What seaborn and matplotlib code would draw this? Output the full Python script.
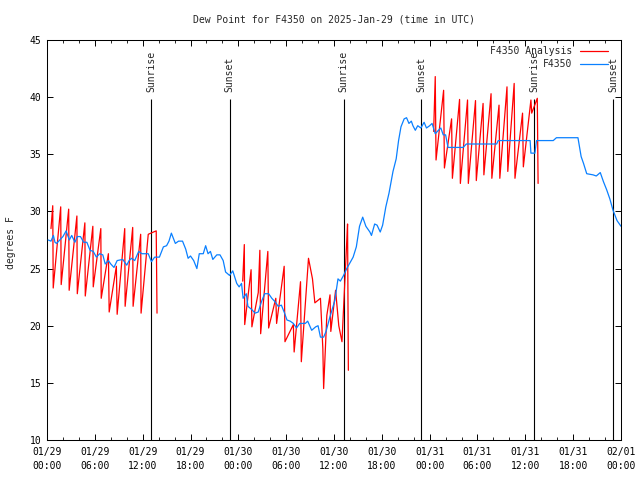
import numpy as np
import pandas as pd
import matplotlib
matplotlib.use("Agg")
import matplotlib.pyplot as plt
import seaborn as sns

# ---------------- data ----------------
title = "Dew Point for F4350 on 2025-Jan-29 (time in UTC)"
y_label = "degrees F"
obs_name = "F4350"
ana_name = "F4350 Analysis"

# hours since 2025-01-29 00:00 UTC
x_tick_hours = [0, 6, 12, 18, 24, 30, 36, 42, 48, 54, 60, 66, 72]
x_tick_labels = ["01/29\n00:00", "01/29\n06:00", "01/29\n12:00", "01/29\n18:00",
                 "01/30\n00:00", "01/30\n06:00", "01/30\n12:00", "01/30\n18:00",
                 "01/31\n00:00", "01/31\n06:00", "01/31\n12:00", "01/31\n18:00",
                 "02/01\n00:00"]
y_ticks = [10, 15, 20, 25, 30, 35, 40, 45]

sun_hours = [13.1, 22.9, 37.2, 46.95, 61.1, 71.0]
sun_labels = ["Sunrise", "Sunset", "Sunrise", "Sunset", "Sunrise", "Sunset"]

# observed dew point (F4350)
obs_hours = [0.15, 0.5, 0.8, 1.0, 1.2, 1.6, 2.0, 2.4, 2.8, 3.1, 3.5, 3.8, 4.2, 4.6,
             5.0, 5.4, 5.8, 6.2, 6.6, 7.0, 7.3, 7.7, 8.0, 8.4, 8.8, 9.5, 10.0, 10.3,
             10.6, 11.0, 11.5, 11.9, 12.7, 13.1, 13.5, 14.1, 14.6, 15.0, 15.3, 15.6,
             16.1, 16.5, 17.0, 17.4, 17.7, 18.0, 18.4, 18.8, 19.1, 19.6, 19.9, 20.2,
             20.5, 20.8, 21.3, 21.7, 22.1, 22.4, 22.9, 23.3, 23.8, 24.1, 24.4, 24.6,
             25.0, 25.2, 25.7, 26.1, 26.5, 26.9, 27.3, 27.8, 28.2, 28.6, 29.0, 29.4,
             29.8, 30.1, 30.5, 30.9, 31.3, 31.7, 32.4, 32.7, 33.2, 33.7, 34.0, 34.3,
             34.7, 35.0, 35.5, 35.8, 36.1, 36.5, 36.8, 37.2, 37.6, 38.0, 38.4, 38.8,
             39.2, 39.6, 40.0, 40.5, 40.7, 41.1, 41.4, 41.8, 42.1, 42.5, 42.9, 43.4,
             43.8, 44.1, 44.4, 44.8, 45.1, 45.4, 45.7, 45.9, 46.2, 46.5, 46.9, 47.3,
             47.6, 48.0, 48.3, 48.7, 49.1, 49.4, 49.7, 50.0, 50.3, 52.2, 52.6, 56.4,
             56.6, 60.6, 60.7, 61.2, 61.4, 63.5, 63.9, 66.6, 67.0, 67.3, 67.7, 68.5,
             68.9, 69.4, 69.8, 70.2, 70.6, 71.0, 71.5, 72.0]
obs_dewpt = [27.5, 27.4, 27.9, 27.3, 27.2, 27.5, 27.8, 28.3, 27.5, 27.9, 27.3, 27.8, 27.8, 27.3,
             27.3, 26.6, 26.5, 26.0, 26.3, 26.2, 25.4, 25.7, 25.4, 25.1, 25.7, 25.8, 25.3, 25.7,
             25.9, 25.7, 26.5, 26.3, 26.3, 25.6, 26.0, 26.0, 26.9, 27.0, 27.4, 28.1,
             27.2, 27.4, 27.4, 26.7, 25.9, 26.1, 25.7, 25.0, 26.3, 26.3, 27.0, 26.3,
             26.5, 25.8, 26.2, 26.2, 25.7, 24.7, 24.4, 24.8, 23.7, 23.4, 23.7, 22.4,
             22.8, 21.7, 21.4, 21.1, 21.2, 22.1, 22.8, 22.8, 22.4, 22.1, 21.7, 21.8,
             21.1, 20.5, 20.4, 20.2, 19.8, 20.2, 20.2, 20.4, 19.6, 19.9, 20.0, 19.0,
             19.0, 19.5, 20.8, 21.5, 22.2, 24.1, 23.9, 24.4, 25.0, 25.5, 26.0, 26.9,
             28.7, 29.5, 28.7, 28.2, 27.9, 28.9, 28.8, 28.2, 28.8, 30.4, 31.6, 33.5,
             34.6, 36.2, 37.4, 38.1, 38.2, 37.7, 37.9, 37.5, 37.1, 37.5, 37.3, 37.8,
             37.3, 37.5, 37.7, 36.8, 37.1, 37.3, 36.7, 36.7, 35.6, 35.6, 35.9, 35.9,
             36.2, 36.2, 35.1, 35.1, 36.2, 36.2, 36.45, 36.45, 34.8, 34.2, 33.3, 33.2,
             33.1, 33.4, 32.6, 31.9, 31.1, 30.1, 29.2, 28.7]

# analysis dew point (F4350 Analysis), three separate runs
ana1_hours = [0.5, 0.72, 0.78, 1.72, 1.78, 2.72, 2.78, 3.75, 3.8, 4.75, 4.8, 5.75, 5.8,
              6.75, 6.8, 7.7, 7.8, 8.7, 8.8, 9.75, 9.8, 10.75, 10.8, 11.75, 11.8,
              12.7, 13.7, 13.8]
ana1_dewpt = [28.5, 30.5, 23.3, 30.4, 23.6, 30.2, 23.1, 29.6, 22.8, 29.0, 22.6, 28.7, 23.4,
              28.5, 22.4, 26.3, 21.2, 25.2, 21.0, 28.5, 21.7, 28.6, 21.7, 28.0, 21.1,
              28.0, 28.3, 21.1]

ana2_hours = [24.55, 24.75, 24.8, 25.6, 25.7, 26.5, 26.7, 26.8, 27.7, 27.8, 28.7, 28.8,
              29.75, 29.85, 30.9, 31.0, 31.8, 31.9, 32.8, 33.3, 33.6, 34.3, 34.6, 34.7,
              35.1, 35.5, 35.6, 36.2, 36.6, 37.0, 37.6, 37.7, 37.8]
ana2_dewpt = [23.9, 27.1, 20.1, 24.9, 19.9, 22.9, 26.6, 19.3, 26.5, 19.8, 22.4, 20.2,
              25.2, 18.6, 20.1, 17.7, 23.85, 16.85, 25.9, 24.1, 22.0, 22.4, 18.0, 14.5,
              20.9, 22.7, 19.5, 23.1, 20.0, 18.6, 27.4, 28.9, 16.1]

ana3_hours = [48.5, 48.7, 48.8, 49.75, 49.85, 50.75, 50.85, 51.75, 51.85, 52.75, 52.85,
              53.75, 53.85, 54.7, 54.8, 55.7, 55.8, 56.7, 56.8, 57.7, 57.8, 58.6, 58.7,
              59.65, 59.75, 60.7, 60.8, 61.5, 61.6]
ana3_dewpt = [37.0, 41.8, 34.5, 40.6, 33.8, 38.1, 32.9, 39.8, 32.45, 39.75, 32.45,
              39.7, 32.7, 39.45, 33.2, 40.3, 32.9, 39.3, 32.9, 40.9, 33.5, 41.2, 32.9,
              38.6, 33.9, 39.75, 38.6, 39.9, 32.45]

# ---------------- frames ----------------
obs_df = pd.DataFrame({"hours": obs_hours, "dewpt": obs_dewpt})
ana_df = pd.concat([
    pd.DataFrame({"hours": ana1_hours, "dewpt": ana1_dewpt, "run": 1}),
    pd.DataFrame({"hours": ana2_hours, "dewpt": ana2_dewpt, "run": 2}),
    pd.DataFrame({"hours": ana3_hours, "dewpt": ana3_dewpt, "run": 3}),
], ignore_index=True)

# ---------------- style ----------------
sns.set_style("ticks")
plt.rcParams['font.family'] = ['DejaVu Sans Mono', 'DejaVu Sans']
plt.rcParams['font.size'] = 7

red = "#ff0000"
blue = "#0a80ff"

fig = plt.figure(figsize=(6.4, 4.8), dpi=100)
ax = fig.add_axes([47 / 640, 40 / 480, 574 / 640, 400 / 480])

# sunrise / sunset markers
ax.vlines(sun_hours, 10, 39.8, color="black", lw=0.8, zorder=1)
for h, lab in zip(sun_hours, sun_labels):
    ax.text(h, 40.45, lab, rotation=90, ha="center", va="bottom", fontsize=7)

sns.lineplot(data=ana_df, x="hours", y="dewpt", units="run", estimator=None, sort=False,
             color=red, lw=0.9, ax=ax, zorder=2, legend=False)
sns.lineplot(data=obs_df, x="hours", y="dewpt", estimator=None, sort=False,
             color=blue, lw=0.9, ax=ax, zorder=3, legend=False)

lines = ax.get_lines()
red_handle = [l for l in lines if l.get_color() == red][0]
blue_handle = [l for l in lines if l.get_color() == blue][0]
ax.legend([red_handle, blue_handle], [ana_name, obs_name], loc="upper right",
          bbox_to_anchor=(0.977, 0.985), frameon=False, markerfirst=False,
          handlelength=2.85, handletextpad=0.8, labelspacing=0.3,
          borderpad=0, borderaxespad=0, fontsize=7)

ax.set_xlim(0, 72)
ax.set_ylim(10, 45)
ax.set_xticks(x_tick_hours)
ax.set_xticklabels(x_tick_labels)
ax.set_xticks(np.arange(0, 73, 2), minor=True)
ax.set_yticks(y_ticks)
ax.set_yticklabels([str(v) for v in y_ticks])
for lbl in ax.get_xticklabels():
    lbl.set_linespacing(1.45)
ax.tick_params(axis="both", which="major", direction="in", length=4, width=0.7,
               top=True, right=True, labelsize=7, colors="black")
ax.tick_params(axis="x", which="major", pad=5)
ax.tick_params(axis="y", which="major", pad=4)
ax.tick_params(axis="x", which="minor", direction="in", length=2.5, width=0.7,
               top=True, bottom=True)
ax.set_xlabel("")
ax.set_ylabel("")
for s in ax.spines.values():
    s.set_linewidth(0.75)
    s.set_color("black")

fig.text(334 / 640, 1 - 19 / 480, title, ha="center", va="center", fontsize=7)
fig.text(11 / 640, 1 - 243 / 480, y_label, rotation=90, ha="center", va="center", fontsize=7)

fig.savefig("out.png", dpi=100)
